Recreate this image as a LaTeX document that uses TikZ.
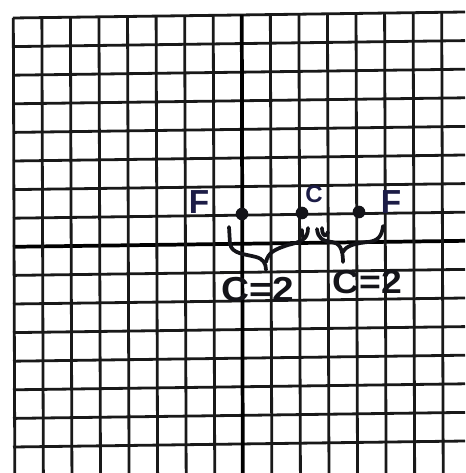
\documentclass[tikz,border=0pt]{standalone}
\usepackage{fontspec}
\setmainfont{Liberation Sans}
\definecolor{ink}{RGB}{28,28,70}
\definecolor{pencil}{RGB}{20,20,25}
\tikzset{
  gridline/.style={line width=2.1pt, draw=black!90},
  axisline/.style={line width=2.8pt, draw=black},
  pointdot/.style={circle, fill=pencil, inner sep=0pt, minimum size=9.5pt},
  bracestroke/.style={line width=2.8pt, draw=pencil, line cap=round, line join=round},
  letter/.style={text=ink, font=\bfseries, inner sep=0pt},
  clabel/.style={text=pencil, inner sep=0pt, xscale=1.12}
}
\begin{document}
\begin{tikzpicture}[x=0.75pt, y=-0.75pt]
\useasboundingbox[fill=white] (0,0) rectangle (465,473);
% horizontal lines (slightly slanted)
\foreach \j in {0,...,15}{
  \pgfmathsetmacro{\yy}{18+28.6*\j}
  \ifnum\j=8
    \draw[axisline] (13,\yy) -- (465,\yy-6);
  \else
    \draw[gridline] (13,\yy) -- (465,\yy-6);
  \fi
}
% vertical lines
\foreach \i in {0,...,15}{
  \pgfmathsetmacro{\xx}{13.3+28.56*\i}
  \pgfmathsetmacro{\yt}{18-(\xx-13)*0.0133}
  \ifnum\i=8
    \draw[axisline] (\xx,\yt) -- (\xx+1,473);
  \else
    \draw[gridline] (\xx,\yt) -- (\xx+1.5,473);
  \fi
}
% points
\node[pointdot] (f1) at (242,214) {};
\node[pointdot] (c) at (302,213) {};
\node[pointdot] (f2) at (359,212) {};
% labels
\node[letter, font=\bfseries\fontsize{25}{25}\selectfont] (lf1) at (199,202) {F};
\node[letter, font=\bfseries\fontsize{18}{18}\selectfont] (lc) at (314,194) {C};
\node[letter, font=\bfseries\fontsize{25}{25}\selectfont] (lf2) at (391,202) {F};
% braces
\coordinate (b1a) at (229,227);
\coordinate (b1t) at (266,270);
\coordinate (b1b) at (308,228);
\draw[bracestroke] (b1a) -- (230,244) .. controls (232,254) and (245,254) .. (256,257)
  .. controls (263,259) and (266,263) .. (b1t);
\draw[bracestroke] (266,262) .. controls (268,252) and (276,249) .. (288,245)
  .. controls (300,242) and (308,240) .. (b1b);
\draw[bracestroke] (302,230) .. controls (302,238) and (304,240) .. (306,236);
\coordinate (b2a) at (317,229);
\coordinate (b2t) at (343,262);
\coordinate (b2b) at (383,226);
\draw[bracestroke] (b2a) .. controls (318,238) and (322,241) .. (332,242)
  .. controls (339,243) and (343,248) .. (b2t);
\draw[bracestroke] (343,252) .. controls (346,245) and (358,243) .. (368,242)
  .. controls (378,241) and (382,236) .. (b2b);
\draw[bracestroke] (322,228) .. controls (322,236) and (326,238) .. (328,232);
% brace labels
\node[clabel, font=\bfseries\fontsize{26}{26}\selectfont] (cl1) at (258,290) {C=2};
\node[clabel, font=\bfseries\fontsize{25}{25}\selectfont] (cl2) at (367,282) {C=2};
\end{tikzpicture}
\end{document}
